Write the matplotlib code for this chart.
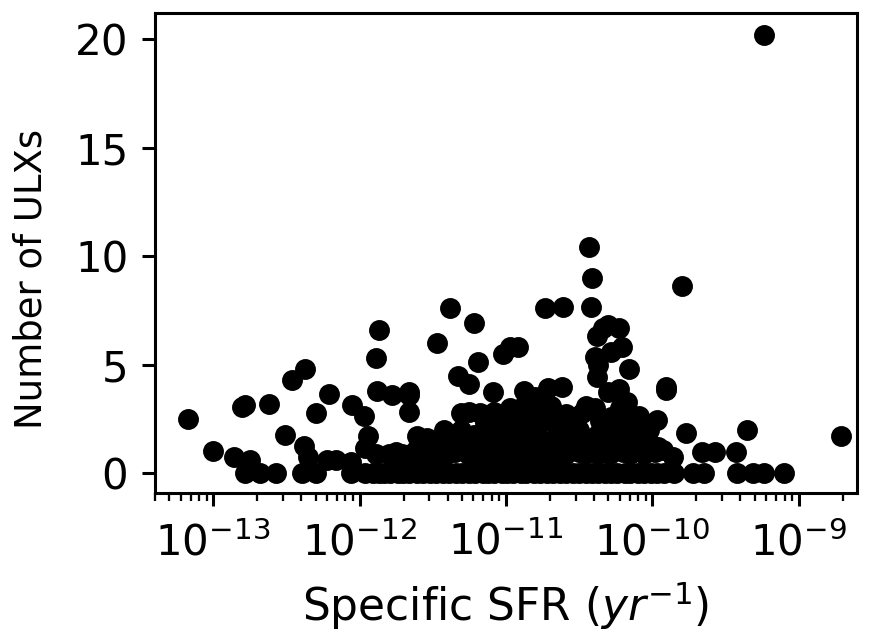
import numpy as np
import matplotlib
matplotlib.use("Agg")
from matplotlib import pyplot as plt

# log10 of specific SFR (yr^-1) and number of ULXs
# scattered / isolated galaxies
log_ssfr_iso = [-13.17, -13.00, -12.86, -12.75, -12.78, -12.68, -12.57, -12.80, -12.78, -12.62,
                -12.46, -12.37, -12.30, -12.51, -12.38, -12.35, -12.39, -12.30, -12.21, -12.22,
                -12.16, -12.06, -12.06, -12.05, -11.97, -11.94, -11.96, -11.87, -11.89, -11.88,
                -11.78, -11.89, -11.80, -11.71, -11.66, -11.66, -11.66, -11.61, -11.47, -11.38,
                -11.22, -11.33, -11.25, -11.19, -11.09, -11.02, -10.97, -10.92, -11.42, -11.31,
                -11.25, -11.18, -11.08, -11.00, -10.94, -10.88, -10.80, -10.71, -10.62, -10.82,
                -10.72, -10.79, -10.82, -10.63, -10.54, -10.73, -10.61, -10.42, -10.43, -10.41,
                -10.38, -10.34, -10.30, -10.23, -10.28, -10.21, -10.39, -10.37, -10.38, -10.16,
                -10.30, -10.23, -10.17, -10.09, -9.97, -10.02, -10.39, -10.48, -10.52, -10.28,
                -10.22, -10.18, -10.28, -9.91, -9.91, -9.80, -9.77, -9.35, -8.71, -9.24,
                -9.86, -9.66, -9.57, -9.43, -9.85, -9.72, -9.65, -9.42, -9.31, -9.24,
                -9.10]
n_ulx_iso = [2.49, 1.03, 0.72, 0.60, 0.00, 0.00, 0.00, 3.05, 3.13, 3.20,
             4.28, 4.78, 2.78, 1.75, 1.24, 0.75, 0.00, 0.00, 3.62, 0.60,
             0.60, 0.52, 0.00, 3.13, 2.63, 1.72, 1.14, 6.59, 5.28, 3.79,
             3.59, 0.90, 0.90, 0.90, 3.75, 3.60, 2.82, 1.70, 6.00, 7.59,
             6.90, 4.45, 4.10, 5.13, 3.75, 5.50, 5.82, 5.82, 1.98, 2.75,
             2.82, 2.75, 2.82, 1.98, 2.82, 3.79, 3.52, 3.90, 3.98, 2.90,
             2.90, 2.44, 2.13, 1.98, 1.98, 7.60, 7.66, 7.64, 10.40, 9.00,
             6.31, 6.67, 6.82, 6.70, 5.59, 5.82, 5.33, 4.98, 4.44, 4.78,
             3.75, 3.86, 3.29, 2.63, 2.44, 1.98, 2.98, 2.75, 2.36, 2.60,
             2.60, 1.83, 1.90, 3.95, 3.82, 8.63, 1.83, 1.98, 1.72, 20.20,
             0.72, 0.96, 0.96, 0.96, 0.00, 0.00, 0.00, 0.00, 0.00, 0.00,
             0.00]

# crowded row of galaxies with zero ULXs
log_ssfr_zero = [-11.96, -11.91, -11.87, -11.83, -11.79, -11.74, -11.70, -11.66, -11.61, -11.57,
                 -11.52, -11.48, -11.43, -11.39, -11.34, -11.30, -11.25, -11.21, -11.16, -11.12,
                 -11.08, -11.03, -10.99, -10.95, -10.90, -10.86, -10.81, -10.77, -10.72, -10.68,
                 -10.63, -10.59, -10.54, -10.50, -10.45, -10.41, -10.37, -10.32, -10.28, -10.24,
                 -10.19, -10.15, -10.10, -10.06, -10.01, -9.97, -9.92]
n_ulx_zero = [0.0] * len(log_ssfr_zero)

# crowded band around one ULX
log_ssfr_one = [-11.75, -11.66, -11.62, -11.58, -11.53, -11.49, -11.44, -11.40, -11.35, -11.31,
                -11.26, -11.22, -11.17, -11.13, -11.08, -11.04, -10.99, -10.95, -10.90, -10.86,
                -10.81, -10.77, -10.72, -10.68, -10.63, -10.59, -10.55, -10.50, -10.46, -10.42,
                -10.37, -10.33, -10.29, -10.24, -10.20, -10.15, -10.11, -10.06, -10.02, -9.98,
                -9.93, -11.73, -11.50, -11.20, -11.06, -10.93, -10.79, -10.66]
n_ulx_one = [0.95, 0.85, 1.00, 0.90, 0.95, 0.85, 1.00, 0.90, 0.95, 1.05,
             0.90, 1.00, 0.85, 1.10, 0.95, 0.90, 1.05, 0.80, 1.00, 0.90,
             1.15, 0.95, 0.85, 1.10, 1.00, 0.90, 1.20, 0.95, 0.90, 1.05,
             0.90, 1.00, 0.90, 1.10, 0.95, 0.90, 1.00, 0.90, 1.00, 0.95,
             1.05, 0.60, 0.55, 0.65, 0.60, 0.55, 0.70, 0.60]

# crowded band between one and three ULXs
log_ssfr_mid = [-11.58, -11.54, -11.48, -11.40, -11.36, -11.31, -11.27, -11.22, -11.17, -11.14,
                -11.09, -11.06, -11.02, -10.99, -10.95, -10.91, -10.87, -10.83, -10.79, -10.74,
                -10.70, -10.65, -10.61, -10.57, -10.53, -10.50, -10.46, -10.41, -10.37, -10.32,
                -10.28, -10.23, -10.19, -10.14, -10.10, -10.06, -10.01, -9.96, -11.02, -10.97,
                -10.92, -10.87, -10.78, -10.69, -10.65, -10.59, -10.45, -10.36, -10.22, -10.13]
n_ulx_mid = [1.30, 1.60, 1.40, 1.80, 1.30, 2.00, 1.50, 1.75, 1.30, 2.30,
             1.60, 2.00, 1.40, 2.00, 1.70, 1.30, 1.90, 1.60, 2.10, 2.40,
             1.50, 1.80, 1.40, 2.00, 2.40, 2.00, 1.60, 1.40, 1.80, 1.90,
             1.50, 1.30, 2.00, 1.60, 1.30, 1.55, 1.30, 1.20, 2.50, 3.00,
             2.60, 3.20, 2.60, 3.10, 2.50, 2.70, 3.10, 2.40, 3.00, 2.20]

x_major = [1e-13, 1e-12, 1e-11, 1e-10, 1e-9]

log_ssfr = np.array(log_ssfr_iso + log_ssfr_zero + log_ssfr_one + log_ssfr_mid)
n_ulx = np.array(n_ulx_iso + n_ulx_zero + n_ulx_one + n_ulx_mid)
ssfr = 10.0 ** log_ssfr

fig = plt.figure(figsize=(874 / 275, 635 / 275), dpi=275)
ax = fig.add_axes([0.1773, 0.2236, 0.8032, 0.7559])

ax.scatter(ssfr, n_ulx, s=20, c='k')
ax.set_xscale('log')
ax.set_xticks(x_major)
ax.set_xlim(4.0e-14, 2.5e-9)
ax.set_ylim(-0.92, 21.2)
ax.set_yticks([0, 5, 10, 15, 20])
ax.tick_params(axis='both', which='major', labelsize=11)
ax.tick_params(axis='x', which='major', pad=4.0)
ax.tick_params(axis='x', which='minor', labelbottom=False)

ax.set_xlabel('Specific SFR ($yr^{-1}$)', fontsize=11.5)
ax.set_ylabel('Number of ULXs', fontsize=9.7)
ax.xaxis.set_label_coords(0.5, -0.18)
ax.yaxis.set_label_coords(-0.15, 0.445)

fig.savefig('out.png', dpi=275)
